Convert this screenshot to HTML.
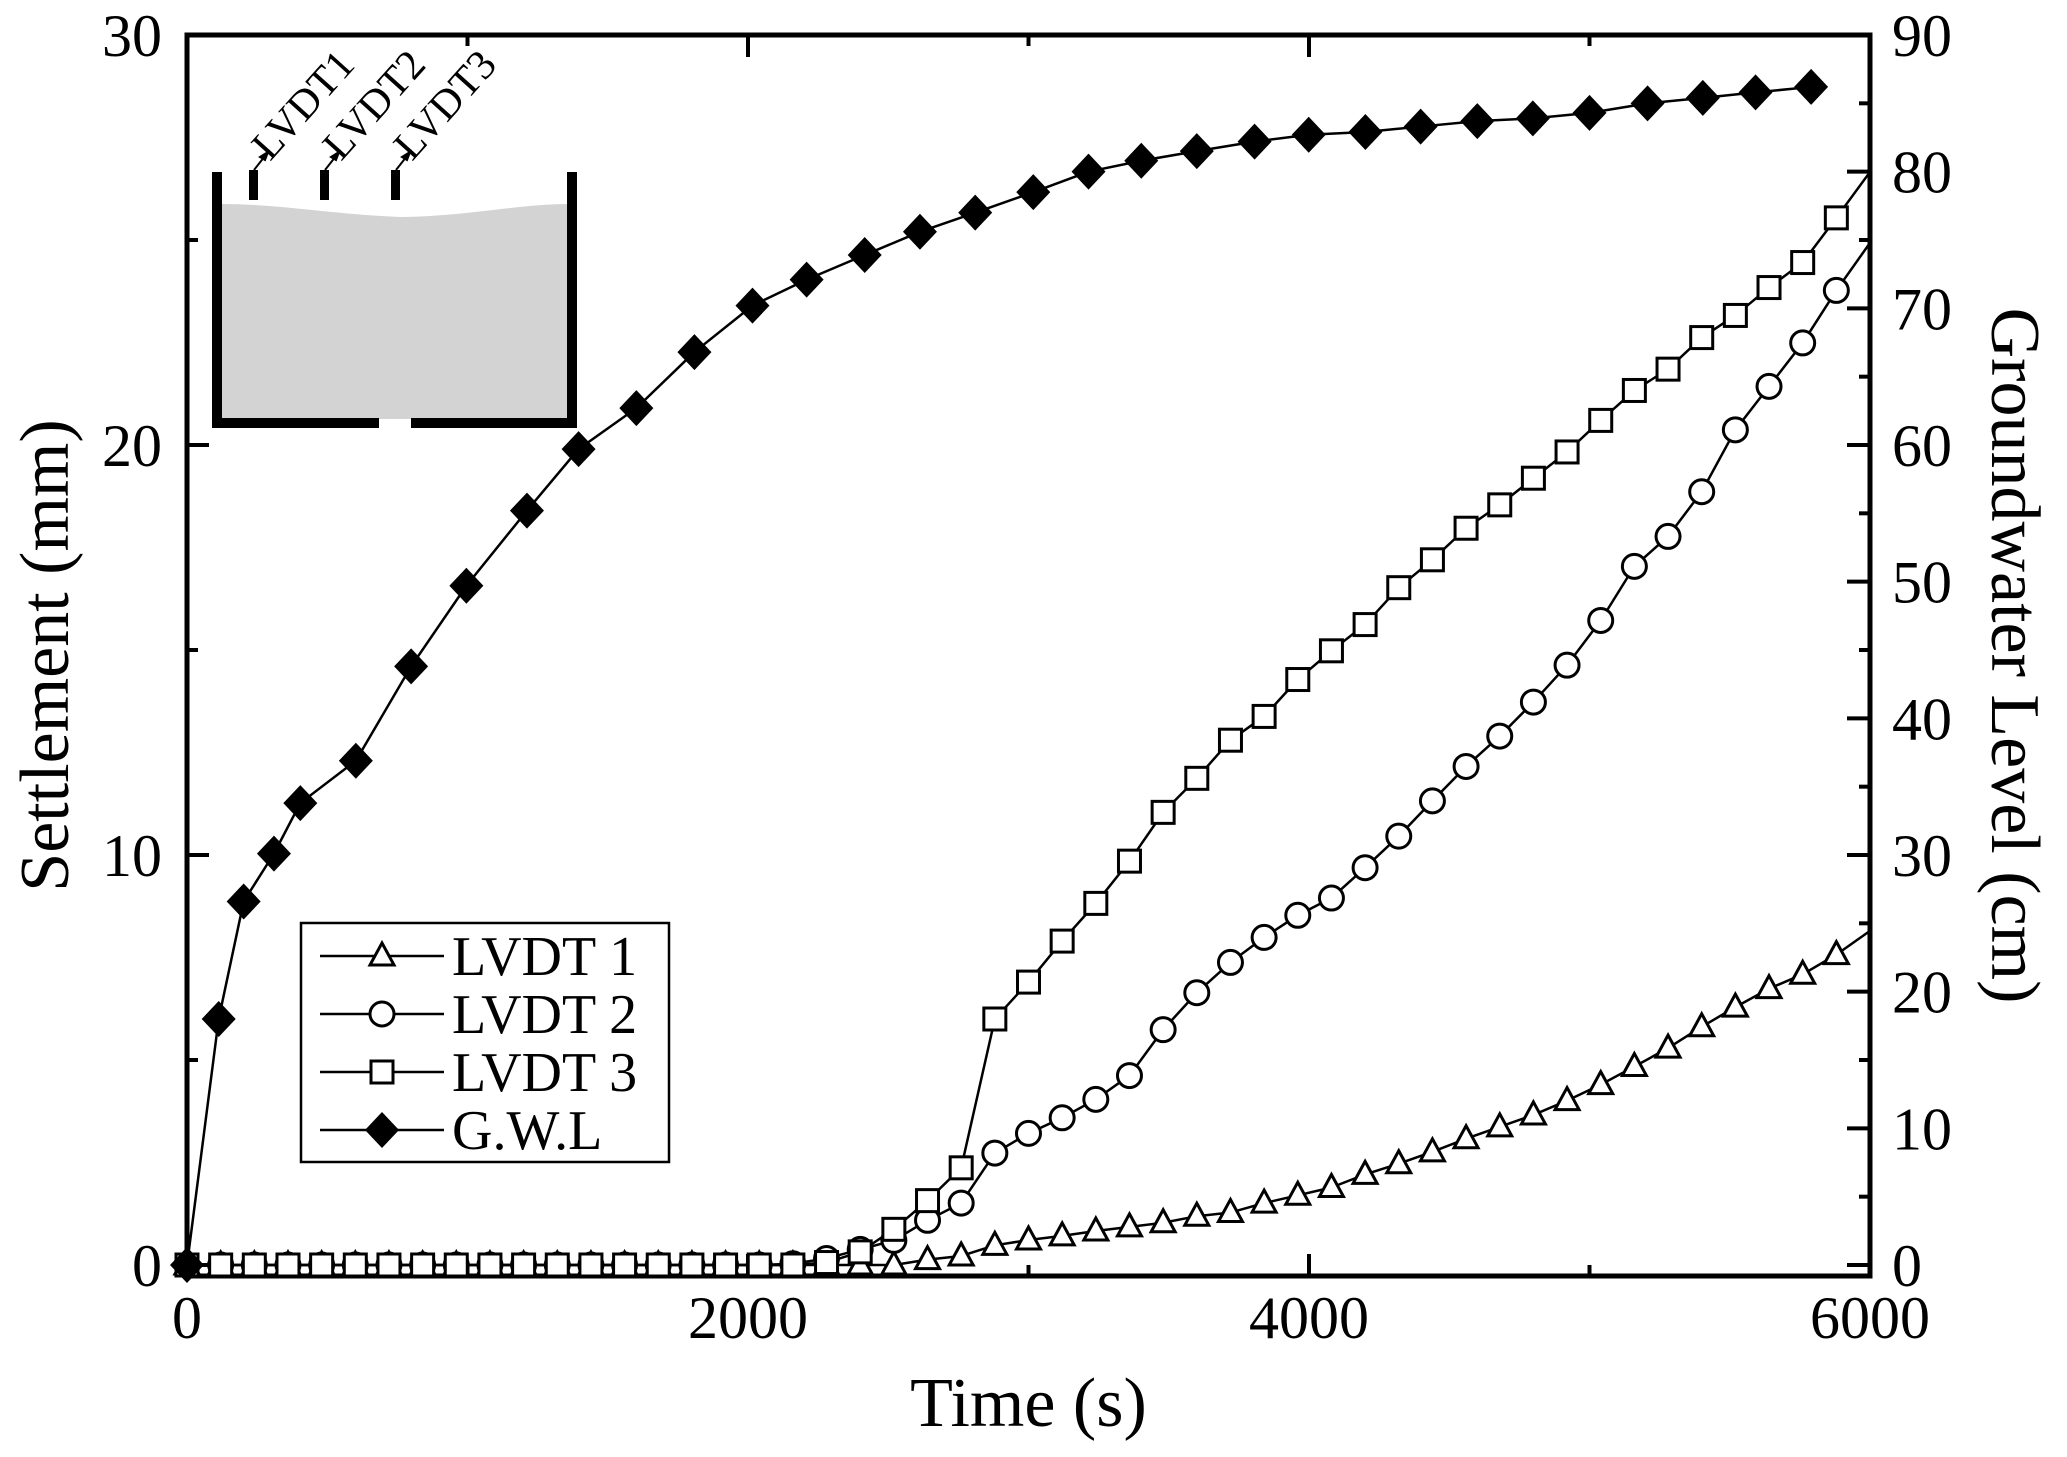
<!DOCTYPE html>
<html><head><meta charset="utf-8"><style>
html,body{margin:0;padding:0;background:#fff}
svg{display:block}
text{font-family:"Liberation Serif",serif;fill:#000}
</style></head><body>
<svg id="chart" width="2067" height="1457" viewBox="0 0 2067 1457" xmlns="http://www.w3.org/2000/svg">
<g id="inset">
 <path d="M222,204 C280,204 330,214 400,217 C460,217 520,204 567,204 L567,419 L222,419 Z" fill="#d3d3d3"/>
 <rect x="212" y="172" width="10" height="256" fill="#000"/>
 <rect x="567" y="172" width="10" height="256" fill="#000"/>
 <rect x="212" y="418" width="167" height="10" fill="#000"/>
 <rect x="411" y="418" width="166" height="10" fill="#000"/>
 <rect x="249" y="170" width="9" height="30" fill="#000"/>
 <rect x="320" y="170" width="9" height="30" fill="#000"/>
 <rect x="391" y="170" width="9" height="30" fill="#000"/>
 <g stroke="#000" stroke-width="2" fill="#000">
  <line x1="254" y1="170" x2="265" y2="156"/><path d="M268,152 L260,157 L265,160 Z"/>
  <line x1="325" y1="170" x2="336" y2="156"/><path d="M339,152 L331,157 L336,160 Z"/>
  <line x1="396" y1="170" x2="407" y2="156"/><path d="M410,152 L402,157 L407,160 Z"/>
 </g>
 <text transform="translate(270,162) rotate(-48)" font-size="42">LVDT1</text>
 <text transform="translate(341,162) rotate(-48)" font-size="42">LVDT2</text>
 <text transform="translate(412,162) rotate(-48)" font-size="42">LVDT3</text>
</g>
<g id="axes"></g>
<g id="series"></g>
<g id="legend"></g>
</svg>
<script>
const timeTicks=[0,2000,4000,6000];
const settleTicks=[0,10,20,30];
const gwlTicks=[0,10,20,30,40,50,60,70,80,90];
const gwlTime=[0,113,202,310,404,602,799,996,1212,1396,1602,1809,2016,2209,2416,2613,2810,3017,3214,3402,3600,3806,3999,4201,4398,4600,4798,5000,5207,5404,5592,5790];
const gwlLevel=[0,18.0,26.6,30.1,33.8,36.9,43.8,49.7,55.2,59.7,62.7,66.8,70.2,72.1,73.9,75.6,77.0,78.5,80.0,80.8,81.5,82.2,82.7,82.9,83.3,83.7,83.9,84.3,85.0,85.4,85.8,86.2];
const lvdtTime=[0,120,240,360,480,600,720,840,960,1080,1200,1320,1440,1560,1680,1800,1920,2040,2160,2280,2400,2520,2640,2760,2880,3000,3120,3240,3360,3480,3600,3720,3840,3960,4080,4200,4320,4440,4560,4680,4800,4920,5040,5160,5280,5400,5520,5640,5760,5880];
const lvdt1=[0,0,0,0,0,0,0,0,0,0,0,0,0,0,0,0,0,0,0,0,0,0,0.13,0.22,0.48,0.61,0.71,0.83,0.93,1.03,1.19,1.28,1.51,1.70,1.89,2.21,2.47,2.76,3.08,3.37,3.66,4.01,4.40,4.84,5.29,5.81,6.29,6.74,7.09,7.57];
const lvdt2=[0,0,0,0,0,0,0,0,0,0,0,0,0,0,0,0,0,0,0.03,0.16,0.38,0.6,1.09,1.51,2.73,3.21,3.59,4.04,4.62,5.74,6.64,7.38,7.99,8.53,8.95,9.69,10.46,11.32,12.16,12.90,13.73,14.63,15.72,17.04,17.77,18.86,20.37,21.43,22.49,23.77];
const lvdt3=[0,0,0,0,0,0,0,0,0,0,0,0,0,0,0,0,0,0,0,0.06,0.32,0.87,1.57,2.37,6.0,6.9,7.9,8.82,9.85,11.04,11.87,12.80,13.38,14.28,14.98,15.62,16.52,17.20,17.97,18.54,19.19,19.83,20.60,21.33,21.85,22.62,23.16,23.84,24.45,25.54];
const endTime=6000;
const lvdtEnd=[8.15,24.93,26.66];

const L=187,R=1870,T=35,B=1276,Z=1265;
const X=t=>L+(t/6000)*(R-L);
const YL=v=>Z-(v/30)*(Z-T);
const YR=v=>Z-(v/90)*(Z-T);
const NS='http://www.w3.org/2000/svg';
function mk(tag,attrs,parent,txt){const e=document.createElementNS(NS,tag);for(const k in attrs)e.setAttribute(k,attrs[k]);if(txt!==undefined)e.textContent=txt;parent.appendChild(e);return e;}
const axes=document.getElementById('axes');
const series=document.getElementById('series');
const legend=document.getElementById('legend');

let fr=mk('rect',{x:L,y:T,width:R-L,height:B-T,fill:'none',stroke:'#000','stroke-width':5},axes);


for(let t=0;t<=6000;t+=1000){
 const major=t%2000===0, len=major?22:11;
 let a=mk('line',{x1:X(t),x2:X(t),y1:B,y2:B-len,stroke:'#000','stroke-width':4},axes);
 
 
 let b=mk('line',{x1:X(t),x2:X(t),y1:T,y2:T+len,stroke:'#000','stroke-width':4},axes);
 
 
}
timeTicks.forEach(t=>{
 let e=mk('text',{x:X(t),y:1338,'font-size':60,'text-anchor':'middle'},axes,String(t));
 
 
});
for(let v=0;v<=30;v+=5){
 const len=v%10===0?22:11;
 let e=mk('line',{x1:L,x2:L+len,y1:YL(v),y2:YL(v),stroke:'#000','stroke-width':4},axes);
 
 
}
settleTicks.forEach(v=>{
 let e=mk('text',{x:162,y:YL(v)+21,'font-size':60,'text-anchor':'end'},axes,String(v));
 
 
});
for(let v=0;v<=90;v+=5){
 const len=v%10===0?23:11;
 let e=mk('line',{x1:R,x2:R-len,y1:YR(v),y2:YR(v),stroke:'#000','stroke-width':4},axes);
 
 
}
gwlTicks.forEach(v=>{
 let e=mk('text',{x:1892,y:YR(v)+21,'font-size':60},axes,String(v));
 
 
});
let xt=mk('text',{x:(L+R)/2,y:1426,'font-size':70,'text-anchor':'middle'},axes,'Time (s)');


let ylt=mk('text',{transform:`translate(68,${(T+B)/2}) rotate(-90)`,'font-size':70,'text-anchor':'middle'},axes,'Settlement (mm)');


let yrt=mk('text',{transform:`translate(1992,${(T+B)/2}) rotate(90)`,'font-size':70,'text-anchor':'middle'},axes,'Groundwater Level (cm)');



function marker(kind,cx,cy,parent){
 let e;
 if(kind==='tri') e=mk('path',{d:`M${cx},${cy-13} L${cx+12},${cy+9} L${cx-12},${cy+9} Z`,fill:'#fff',stroke:'#000','stroke-width':3},parent);
 else if(kind==='circ') e=mk('circle',{cx:cx,cy:cy,r:12,fill:'#fff',stroke:'#000','stroke-width':3},parent);
 else if(kind==='sq') e=mk('rect',{x:cx-11,y:cy-11,width:22,height:22,fill:'#fff',stroke:'#000','stroke-width':3},parent);
 else e=mk('path',{d:`M${cx},${cy-18} L${cx+17},${cy} L${cx},${cy+18} L${cx-17},${cy} Z`,fill:'#000'},parent);
 return e;
}
function drawSeries(name,times,vals,yf,kind,endT,endV){
 const g=mk('g',{},series);
 
 
 let pts=times.map((t,i)=>X(t)+','+yf(vals[i]));
 if(endT!==undefined) pts.push(X(endT)+','+yf(endV));
 const pl=mk('polyline',{points:pts.join(' '),fill:'none',stroke:'#000','stroke-width':2.5,'stroke-linejoin':'round'},g);
 
 
 times.forEach((t,i)=>{
  const m=marker(kind,X(t),yf(vals[i]),g);
  
  
 });
}
drawSeries('lvdt1',lvdtTime,lvdt1,YL,'tri',endTime,lvdtEnd[0]);
drawSeries('lvdt2',lvdtTime,lvdt2,YL,'circ',endTime,lvdtEnd[1]);
drawSeries('lvdt3',lvdtTime,lvdt3,YL,'sq',endTime,lvdtEnd[2]);
drawSeries('gwl',gwlTime,gwlLevel,YR,'dia');

const lb=mk('rect',{x:301,y:923,width:368,height:239,fill:'#fff',stroke:'#000','stroke-width':2.5},legend);


const legNames=['LVDT 1','LVDT 2','LVDT 3','G.W.L'];
const legKinds=['tri','circ','sq','dia'];
legNames.forEach((n,i)=>{
 const y=956+i*58;
 const g=mk('g',{},legend);
 
 
 mk('line',{x1:320,x2:444,y1:y,y2:y,stroke:'#000','stroke-width':2.5},g);
 marker(legKinds[i],382,y,g);
 mk('text',{x:452,y:y+19,'font-size':56},g,n);
});
</script>
</body></html>
